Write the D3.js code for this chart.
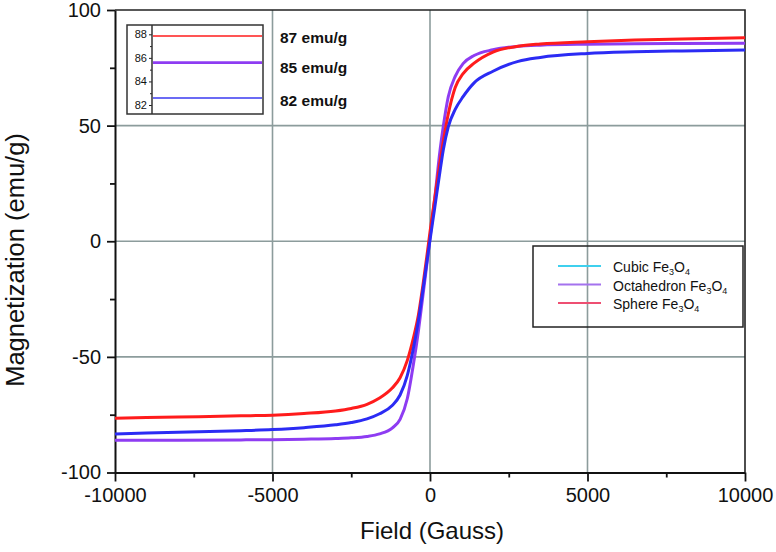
<!DOCTYPE html>
<html>
<head>
<meta charset="utf-8">
<script src="https://cdn.jsdelivr.net/npm/d3@7"></script>
<style>
  html, body { margin: 0; padding: 0; background: #fff; }
  svg { display: block; }
</style>
</head>
<body>
<svg id="chart" width="776" height="552"></svg>
<script>
// ---------------- DATA ----------------
const field = [-10000, -8000, -6000, -5000, -4000, -3000, -2500, -2000, -1600, -1200, -950, -720, -530, -370, -230, -100, 0, 150, 320, 420, 580, 800, 1050, 1400, 2000, 2800, 3500, 5000, 6500, 8000, 10000];
const sphere = [-76.5, -76.0, -75.5, -75.2, -74.5, -73.4, -72.3, -70.5, -67.8, -63.5, -59.0, -51.5, -42.0, -32.0, -19.5, -6.5, 4.0, 18.5, 34.5, 43.0, 55.0, 66.5, 72.5, 77.0, 81.8, 84.3, 85.3, 86.3, 87.0, 87.5, 88.0];
const octahedron = [-86.0, -86.0, -85.9, -85.8, -85.6, -85.3, -85.0, -84.4, -83.3, -80.8, -77.0, -68.0, -53.5, -39.0, -24.0, -10.0, 1.5, 18.5, 39.5, 49.5, 62.5, 71.3, 76.8, 80.3, 82.8, 84.3, 84.8, 85.2, 85.4, 85.5, 85.6];
const cubic = [-83.3, -82.6, -81.9, -81.4, -80.6, -79.4, -78.4, -76.8, -74.6, -71.0, -66.5, -58.0, -46.5, -34.5, -21.5, -9.0, 0.5, 14.5, 30.5, 39.4, 49.5, 57.0, 62.5, 68.5, 73.5, 77.8, 79.5, 81.2, 81.9, 82.3, 82.7];

const xMajorTicks = [-10000, -5000, 0, 5000, 10000];
const xMinorTicks = [-7500, -2500, 2500, 7500];
const yMajorTicks = [-100, -50, 0, 50, 100];
const yMinorTicks = [-75, -25, 25, 75];
const gridX = [-5000, 0, 5000];
const gridY = [-50, 0, 50];

const insetTicks = [82, 84, 86, 88];
const insetMinorTicks = [83, 85, 87];
const insetValues = [87.85, 85.6, 82.6];        // sphere, octahedron, cubic saturation
const insetLabels = ["87 emu/g", "85 emu/g", "82 emu/g"];

const legendNames = ["Cubic", "Octahedron", "Sphere"];
const legendColors = ["#3fd0ee", "#a472ee", "#ee4f72"];

const curveColors = { sphere: "#ff1c1c", octahedron: "#8e3cf2", cubic: "#2b2bf4" };

// ---------------- LAYOUT ----------------
const svg = d3.select("#chart");
const L = 115, R = 745, T = 10, B = 472.5;
const x = d3.scaleLinear().domain([-10000, 10000]).range([L, R]);
const y = d3.scaleLinear().domain([-100, 100]).range([B, T]);
const FONT = "'Liberation Sans', Arial, sans-serif";
const fmt = d => String(d);

// grid
svg.append("g").selectAll("line").data(gridX).join("line")
  .attr("x1", d => x(d)).attr("x2", d => x(d)).attr("y1", T).attr("y2", B)
  .attr("stroke", "#8c9c9c").attr("stroke-width", 1.6);
svg.append("g").selectAll("line").data(gridY).join("line")
  .attr("x1", L).attr("x2", R).attr("y1", d => y(d)).attr("y2", d => y(d))
  .attr("stroke", "#8c9c9c").attr("stroke-width", 1.6);

// frame top/right
svg.append("path")
  .attr("d", `M${L},${T}H${R}V${B}`)
  .attr("fill", "none").attr("stroke", "#222").attr("stroke-width", 1.6);

// axes
function styleAxis(g) {
  g.select(".domain").attr("stroke", "#111").attr("stroke-width", 2);
  g.selectAll(".tick line").attr("stroke", "#111").attr("stroke-width", 1.8);
  g.selectAll(".tick text").attr("font-family", FONT).attr("font-size", 20).attr("fill", "#111");
}
const gx = svg.append("g").attr("transform", `translate(0,${B})`)
  .call(d3.axisBottom(x).tickValues(xMajorTicks).tickSize(9).tickSizeOuter(0).tickPadding(6).tickFormat(fmt));
styleAxis(gx);
const gxm = svg.append("g").attr("transform", `translate(0,${B})`)
  .call(d3.axisBottom(x).tickValues(xMinorTicks).tickSize(5).tickSizeOuter(0).tickFormat(""));
styleAxis(gxm); gxm.select(".domain").remove();

const gy = svg.append("g").attr("transform", `translate(${L},0)`)
  .call(d3.axisLeft(y).tickValues(yMajorTicks).tickSize(8).tickSizeOuter(0).tickPadding(6).tickFormat(fmt));
styleAxis(gy);
const gym = svg.append("g").attr("transform", `translate(${L},0)`)
  .call(d3.axisLeft(y).tickValues(yMinorTicks).tickSize(5).tickSizeOuter(0).tickFormat(""));
styleAxis(gym); gym.select(".domain").remove();

// axis titles
svg.append("text").attr("x", 432).attr("y", 539).attr("text-anchor", "middle")
  .attr("font-family", FONT).attr("font-size", 24).attr("fill", "#111").text("Field (Gauss)");
svg.append("text").attr("transform", "translate(24,260) rotate(-90)").attr("text-anchor", "middle")
  .attr("font-family", FONT).attr("font-size", 25.5).attr("fill", "#111").text("Magnetization (emu/g)");

// curves
const line = d3.line().x(d => x(d[0])).y(d => y(d[1])).curve(d3.curveMonotoneX);
const series = [
  { key: "octahedron", vals: octahedron },
  { key: "sphere", vals: sphere },
  { key: "cubic", vals: cubic }
];
svg.append("g").selectAll("path").data(series).join("path")
  .attr("d", s => line(field.map((f, i) => [f, s.vals[i]])))
  .attr("fill", "none").attr("stroke", s => curveColors[s.key]).attr("stroke-width", 3)
  .attr("stroke-linejoin", "round");

// ---------------- INSET ----------------
const iL = 127, iR = 263, iT = 25, iB = 114, iAx = 152;
const yi = d3.scaleLinear().domain([82, 88]).range([105, 34.3]);
svg.append("rect").attr("x", iL).attr("y", iT).attr("width", iR - iL).attr("height", iB - iT)
  .attr("fill", "#fff").attr("stroke", "#333").attr("stroke-width", 1.5);
const gi = svg.append("g").attr("transform", `translate(${iAx},0)`)
  .call(d3.axisLeft(yi).tickValues(insetTicks).tickSize(3).tickSizeOuter(0).tickPadding(2).tickFormat(fmt));
gi.select(".domain").remove();
gi.selectAll(".tick line").attr("stroke", "#222").attr("stroke-width", 1);
gi.selectAll(".tick text").attr("font-family", FONT).attr("font-size", 11).attr("fill", "#111");
const gim = svg.append("g").attr("transform", `translate(${iAx},0)`)
  .call(d3.axisLeft(yi).tickValues(insetMinorTicks).tickSize(2).tickSizeOuter(0).tickFormat(""));
gim.select(".domain").remove();
gim.selectAll(".tick line").attr("stroke", "#222").attr("stroke-width", 1);
svg.append("line").attr("x1", iAx).attr("x2", iAx).attr("y1", iT).attr("y2", iB)
  .attr("stroke", "#333").attr("stroke-width", 1.5);
const insetColors = [curveColors.sphere, curveColors.octahedron, "#3a3af0"];
const insetWidths = [1.6, 2.6, 1.4];
svg.append("g").selectAll("line").data(insetValues).join("line")
  .attr("x1", iAx + 1).attr("x2", iR - 1).attr("y1", d => yi(d)).attr("y2", d => yi(d))
  .attr("stroke", (d, i) => insetColors[i]).attr("stroke-width", (d, i) => insetWidths[i]);
svg.append("g").selectAll("text").data(insetLabels).join("text")
  .attr("x", 280).attr("y", (d, i) => [43, 73, 106][i])
  .attr("font-family", FONT).attr("font-size", 15.5).attr("font-weight", "bold").attr("fill", "#111")
  .text(d => d);

// ---------------- LEGEND ----------------
const lg = svg.append("g");
lg.append("rect").attr("x", 533).attr("y", 246).attr("width", 210).attr("height", 81)
  .attr("fill", "none").attr("stroke", "#222").attr("stroke-width", 1.5);
const rowsY = [266, 284.5, 303];
legendNames.forEach((n, i) => {
  lg.append("line").attr("x1", 558).attr("x2", 601).attr("y1", rowsY[i]).attr("y2", rowsY[i])
    .attr("stroke", legendColors[i]).attr("stroke-width", 2);
  const t = lg.append("text").attr("x", 613).attr("y", rowsY[i] + 6)
    .attr("font-family", FONT).attr("font-size", 14).attr("fill", "#111");
  t.append("tspan").text(n + " Fe");
  t.append("tspan").attr("font-size", 9).attr("dy", 3).text("3");
  t.append("tspan").attr("dy", -3).text("O");
  t.append("tspan").attr("font-size", 9).attr("dy", 3).text("4");
});
</script>
</body>
</html>
